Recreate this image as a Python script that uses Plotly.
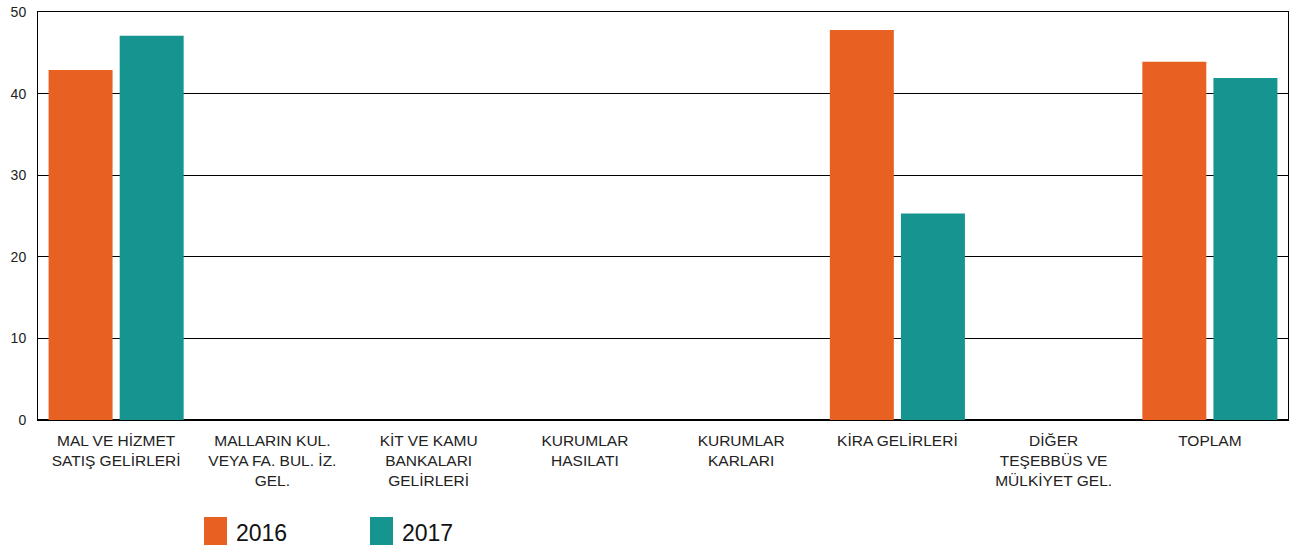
import plotly.graph_objects as go

categories = [
    "MAL VE HİZMET<br>SATIŞ GELİRLERİ",
    "MALLARIN KUL.<br>VEYA FA. BUL. İZ.<br>GEL.",
    "KİT VE KAMU<br>BANKALARI<br>GELİRLERİ",
    "KURUMLAR<br>HASILATI",
    "KURUMLAR<br>KARLARI",
    "KİRA GELİRLERİ",
    "DİĞER<br>TEŞEBBÜS VE<br>MÜLKİYET GEL.",
    "TOPLAM",
]
values_2016 = [42.9, None, None, None, None, 47.8, None, 43.9]
values_2017 = [47.1, None, None, None, None, 25.3, None, 41.9]
series_names = ["2016", "2017"]
colors = ["#E86122", "#159490"]
y_ticks = [0, 10, 20, 30, 40, 50]

FONT = "Arial, Liberation Sans, sans-serif"

fig = go.Figure()
for name, vals, col in zip(series_names, [values_2016, values_2017], colors):
    fig.add_trace(go.Bar(name=name, x=categories, y=vals, marker_color=col,
                         marker_line_width=0, showlegend=False))

# custom legend (large square swatches)
W, H = 1293, 545
ml, mr, mt, mb = 38, 5, 12, 125
pw, ph = W - ml - mr, H - mt - mb

def px_x(p):
    return (p - ml) / pw

def px_y(p):
    return (H - mb - p) / ph

legend_x = [204, 370]
for i, (name, col) in enumerate(zip(series_names, colors)):
    x0 = legend_x[i]
    fig.add_shape(type="rect", xref="paper", yref="paper",
                  x0=px_x(x0), x1=px_x(x0 + 23), y0=px_y(545), y1=px_y(517),
                  fillcolor=col, line_width=0)
    fig.add_annotation(xref="paper", yref="paper", x=px_x(x0 + 30), y=px_y(533),
                       text=name, showarrow=False, xanchor="left", yanchor="middle",
                       font=dict(family=FONT, size=23, color="#111"))

fig.update_layout(
    width=W, height=H,
    margin=dict(l=ml, r=mr, t=mt, b=mb),
    paper_bgcolor="white", plot_bgcolor="white",
    barmode="group", bargap=0.09, bargroupgap=0.1,
    font=dict(family=FONT, size=15, color="#222"),
)
fig.update_xaxes(showline=True, linecolor="black", linewidth=1, mirror=True,
                 tickfont=dict(size=15.5, color="#222"), ticks="outside",
                 ticklen=6, tickcolor="rgba(0,0,0,0)", showgrid=False)
fig.update_yaxes(range=[0, 50], tickvals=y_ticks, showline=True, linecolor="black",
                 linewidth=1, mirror=True, gridcolor="black", gridwidth=1,
                 zeroline=True, zerolinecolor="black", zerolinewidth=2,
                 tickfont=dict(size=14, color="#222"), ticks="outside", ticklen=8,
                 tickcolor="rgba(0,0,0,0)")

fig.write_html("out.html", config={"displayModeBar": False},
               post_script="document.body.style.margin='0';")
